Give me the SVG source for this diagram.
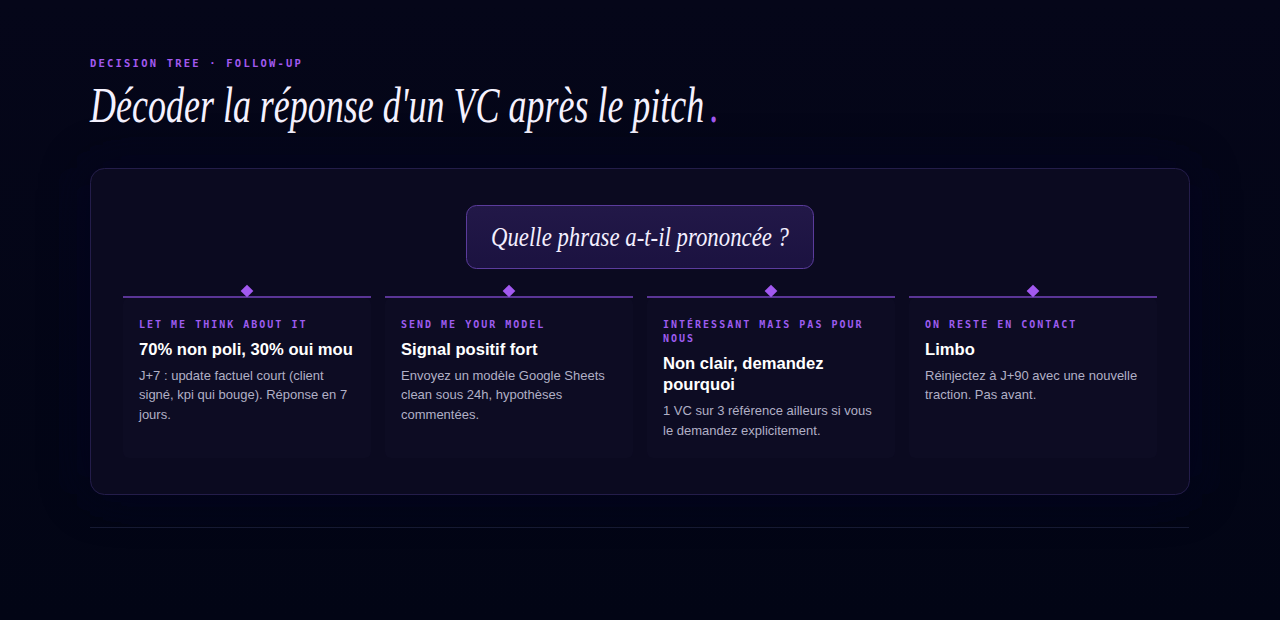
<svg xmlns="http://www.w3.org/2000/svg" width="1280" height="620" viewBox="0 0 1280 620">
<defs>
<style>
.eyebrow{font-family:"DejaVu Sans Mono","Liberation Mono",monospace;font-size:10.5px;font-weight:bold;letter-spacing:2.2px;fill:#a259f0}
.title{font-family:"Liberation Serif",serif;font-style:italic;font-size:50px;fill:#f5f2ff}
.q{font-family:"Liberation Serif",serif;font-style:italic;font-size:28px;fill:#f3efff}
.lab{font-family:"DejaVu Sans Mono","Liberation Mono",monospace;font-size:10px;font-weight:bold;letter-spacing:2px;fill:#9d5cf0}
.h{font-family:"Liberation Sans",Arial,sans-serif;font-size:16.6px;font-weight:bold;fill:#ffffff}
.b{font-family:"Liberation Sans",Arial,sans-serif;font-size:13px;fill:#b1b0c6}
.card{fill:#0d0c23}
.top{stroke:#5a3596;stroke-width:2}
.dia{fill:#a259f0}
</style>
<linearGradient id="bg" x1="0" y1="0" x2="0" y2="1">
<stop offset="0" stop-color="#050619"/>
<stop offset="1" stop-color="#020515"/>
</linearGradient>
<linearGradient id="qb" x1="0" y1="0" x2="0" y2="1">
<stop offset="0" stop-color="#221848"/>
<stop offset="1" stop-color="#1b1240"/>
</linearGradient>
<filter id="glow" x="-20%" y="-40%" width="140%" height="180%">
<feGaussianBlur stdDeviation="25"/>
</filter>
</defs>
<rect width="1280" height="620" fill="url(#bg)"/>
<text class="eyebrow" x="90" y="67">DECISION TREE · FOLLOW-UP</text>
<text class="title" transform="translate(90,122) scale(0.72,1)" x="0" y="0">Décoder la réponse d'un VC après le pitch<tspan dx="8" style="fill:#a259f0">.</tspan></text>
<rect x="90" y="168" width="1099" height="326" rx="14" fill="#0d0a28" opacity="0.6" filter="url(#glow)"/>
<rect x="90.5" y="168.5" width="1099" height="326" rx="14" fill="#0b0a20" stroke="#241d4a" stroke-width="1"/>
<g id="question">
<rect x="466.5" y="205.5" width="347" height="63" rx="10" fill="url(#qb)" stroke="#5b3c9c" stroke-width="1"/>
<text class="q" x="491" y="246" textLength="298" lengthAdjust="spacingAndGlyphs">Quelle phrase a-t-il prononcée ?</text>
</g>
<g id="connectors">
<line class="top" x1="123" y1="297" x2="371" y2="297"/>
<line class="top" x1="385" y1="297" x2="633" y2="297"/>
<line class="top" x1="647" y1="297" x2="895" y2="297"/>
<line class="top" x1="909" y1="297" x2="1157" y2="297"/>
<rect class="dia" x="242.5" y="286.5" width="9" height="9" transform="rotate(45 247 291)"/>
<rect class="dia" x="504.5" y="286.5" width="9" height="9" transform="rotate(45 509 291)"/>
<rect class="dia" x="766.5" y="286.5" width="9" height="9" transform="rotate(45 771 291)"/>
<rect class="dia" x="1028.5" y="286.5" width="9" height="9" transform="rotate(45 1033 291)"/>
</g>
<g id="card1">
<rect class="card" x="123" y="298" width="248" height="160" rx="6"/>
<text class="lab" x="139" y="328">LET ME THINK ABOUT IT</text>
<text class="h" x="139" y="355">70% non poli, 30% oui mou</text>
<text class="b" x="139" y="380">J+7 : update factuel court (client</text>
<text class="b" x="139" y="399">signé, kpi qui bouge). Réponse en 7</text>
<text class="b" x="139" y="419">jours.</text>
</g>
<g id="card2">
<rect class="card" x="385" y="298" width="248" height="160" rx="6"/>
<text class="lab" x="401" y="328">SEND ME YOUR MODEL</text>
<text class="h" x="401" y="355">Signal positif fort</text>
<text class="b" x="401" y="380">Envoyez un modèle Google Sheets</text>
<text class="b" x="401" y="399">clean sous 24h, hypothèses</text>
<text class="b" x="401" y="419">commentées.</text>
</g>
<g id="card3">
<rect class="card" x="647" y="298" width="248" height="160" rx="6"/>
<text class="lab" x="663" y="328">INTÉRESSANT MAIS PAS POUR</text>
<text class="lab" x="663" y="342">NOUS</text>
<text class="h" x="663" y="369">Non clair, demandez</text>
<text class="h" x="663" y="390">pourquoi</text>
<text class="b" x="663" y="415">1 VC sur 3 référence ailleurs si vous</text>
<text class="b" x="663" y="435">le demandez explicitement.</text>
</g>
<g id="card4">
<rect class="card" x="909" y="298" width="248" height="160" rx="6"/>
<text class="lab" x="925" y="328">ON RESTE EN CONTACT</text>
<text class="h" x="925" y="355">Limbo</text>
<text class="b" x="925" y="380">Réinjectez à J+90 avec une nouvelle</text>
<text class="b" x="925" y="399">traction. Pas avant.</text>
</g>
<line x1="90" y1="527.5" x2="1189" y2="527.5" stroke="#161a33" stroke-width="1"/>
</svg>
